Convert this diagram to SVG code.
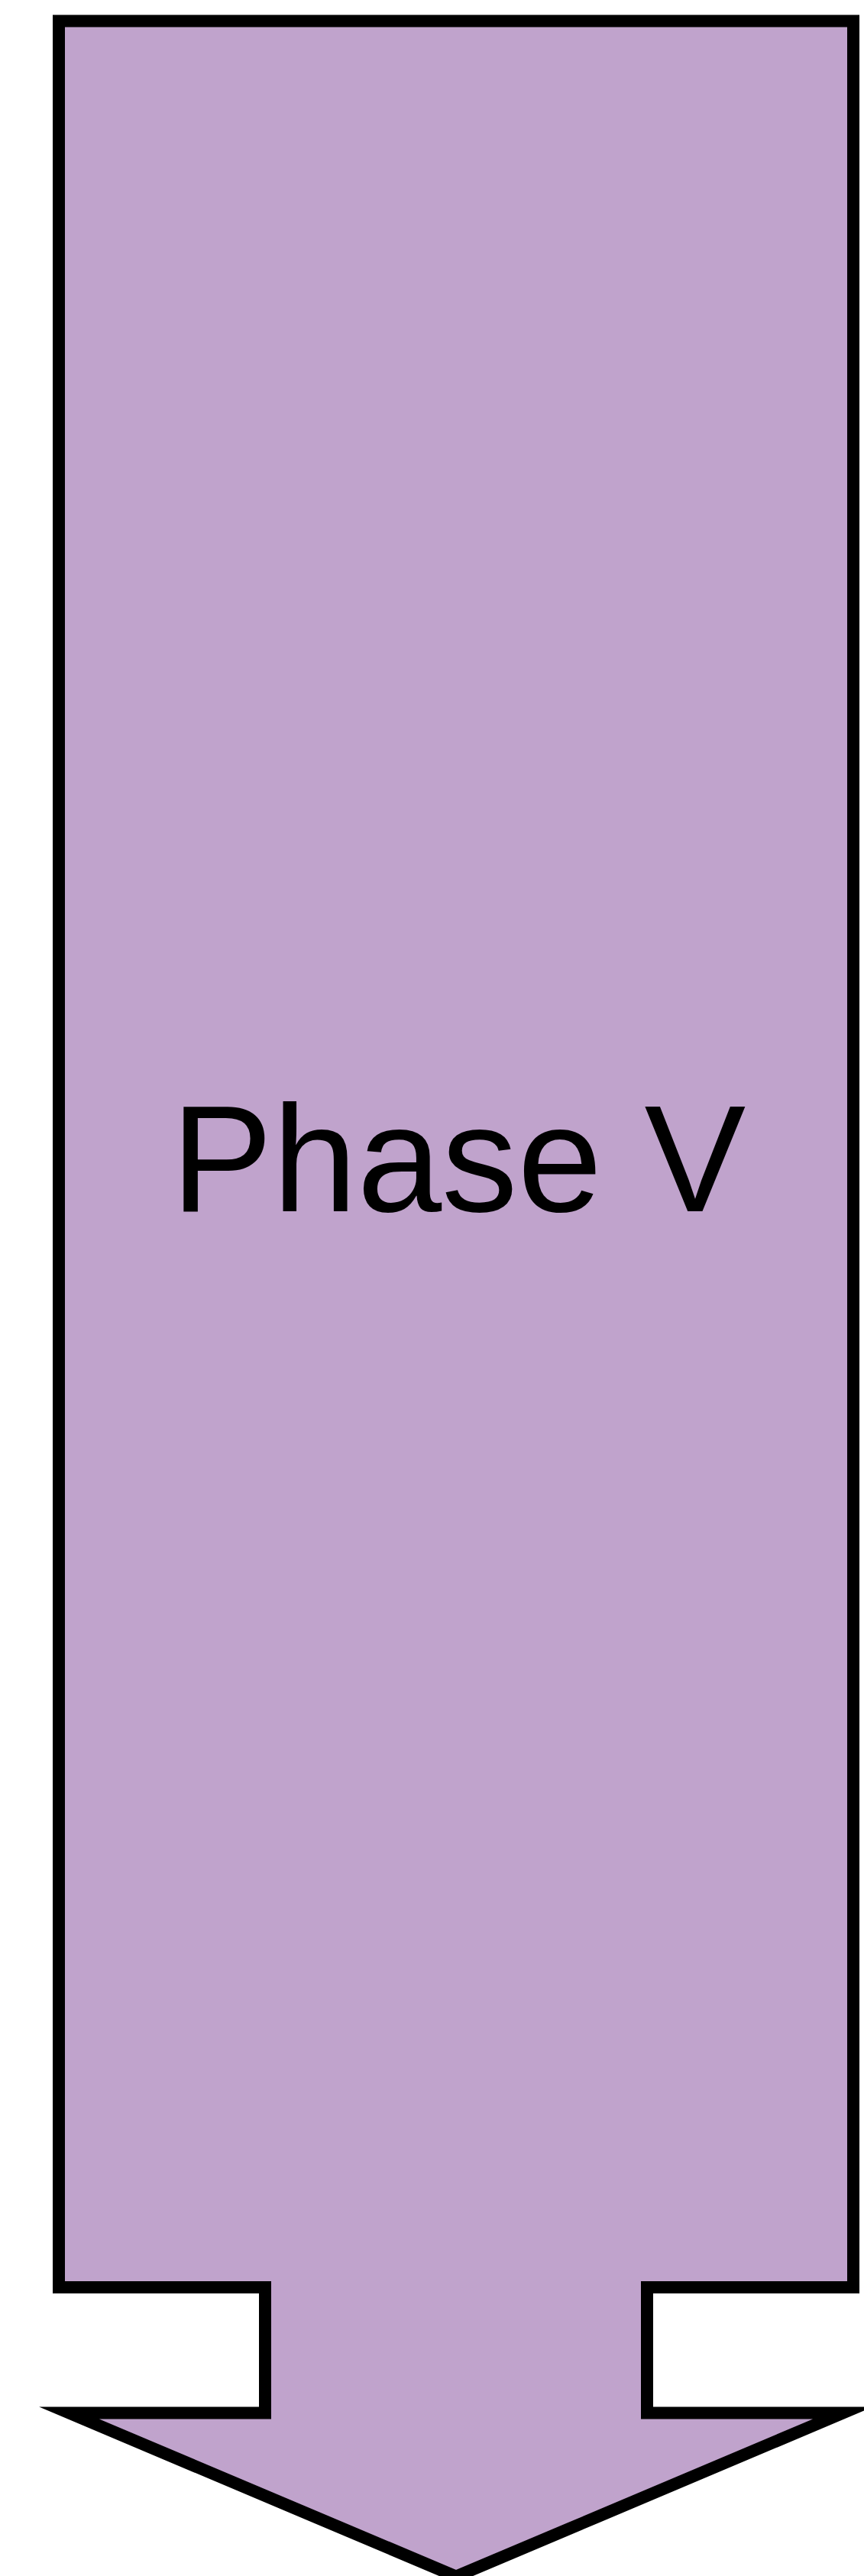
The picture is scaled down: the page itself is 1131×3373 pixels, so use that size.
<svg xmlns="http://www.w3.org/2000/svg" width="1131" height="3373" viewBox="0 0 1131 3373">
  <style>
    .arrow { fill: #C0A3CC; stroke: #000000; stroke-width: 16; stroke-linejoin: miter; stroke-miterlimit: 12; }
    .label { font-family: "Liberation Sans", Arial, sans-serif; font-size: 199px; fill: #000000; }
  </style>
  <rect x="0" y="0" width="1131" height="3373" fill="#FFFFFF"/>
  <g id="phase-v">
    <path class="arrow" d="M77,27.5 H1117 V2995 H847 V3159.5 H1103.4 L597,3373.7 L90.6,3159.5 H347 V2995 H77 Z"/>
    <text class="label" x="224" y="1586">Phase V</text>
  </g>
  <g id="connectors"></g>
</svg>
